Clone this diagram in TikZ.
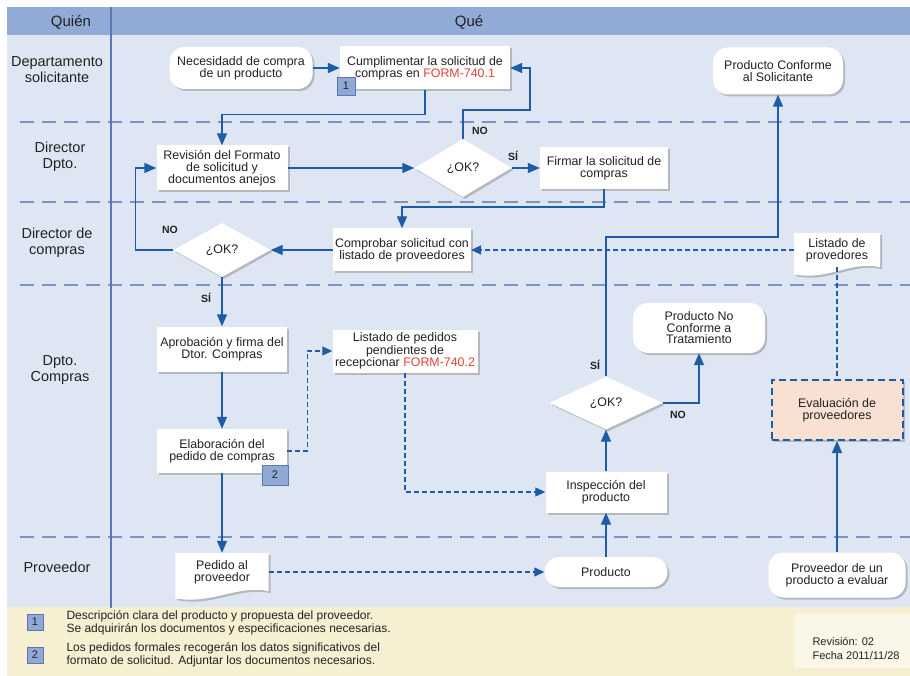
\documentclass[tikz,border=0pt]{standalone}
\usepackage{fontspec}
\setmainfont{Liberation Sans}
\usetikzlibrary{arrows.meta,shapes.geometric,shadows,calc}
\pgfdeclarelayer{back}
\pgfdeclarelayer{docs}
\pgfsetlayers{back,docs,main}
\definecolor{hdr}{HTML}{92AAD6}
\definecolor{bgblue}{HTML}{DFE6F3}
\definecolor{foot}{HTML}{F6EFD2}
\definecolor{flow}{HTML}{1F5CA6}
\definecolor{lane}{HTML}{7D93C4}
\definecolor{divl}{HTML}{5B78B5}
\definecolor{txt}{HTML}{222222}
\definecolor{formred}{HTML}{E5403A}
\definecolor{evalfill}{HTML}{F8E0D2}
\definecolor{badgefill}{HTML}{8FA8D6}
\definecolor{badgeline}{HTML}{5B78B5}
\newcommand\mkdoc[1]{%
  \begin{pgfonlayer}{docs}
  \fill[black!45,opacity=.5,transform canvas={shift={(2pt,-2pt)}}] (#1.north west) -- (#1.north east) -- (#1.south east) .. controls +(-30,-7) and +(35,7) .. ($(#1.south west)+(0,7)$) -- cycle;
  \fill[white] (#1.north west) -- (#1.north east) -- (#1.south east) .. controls +(-30,-7) and +(35,7) .. ($(#1.south west)+(0,7)$) -- cycle;
  \end{pgfonlayer}}
\begin{document}
\begin{tikzpicture}[x=1pt,y=-1pt,text=txt,
  shd/.style={drop shadow={shadow xshift=2pt,shadow yshift=-2pt,fill=black!45,opacity=.5}},
  box/.style={rectangle,fill=white,shd,align=center,font=\fontsize{12.4}{12}\selectfont,inner sep=2pt},
  stad/.style={box,rounded corners=15pt},
  dia/.style={diamond,fill=white,shd,inner sep=0pt,font=\fontsize{12.4}{12}\selectfont},
  docn/.style={rectangle,align=center,font=\fontsize{12.4}{12}\selectfont,inner sep=2pt},
  evalbox/.style={box,fill=evalfill,draw=flow,line width=2pt,dash pattern=on 7pt off 4pt},
  badge/.style={rectangle,fill=badgefill,draw=badgeline,line width=0.8pt,font=\fontsize{11}{11}\selectfont,minimum width=18pt,minimum height=18pt,inner sep=0pt},
  arr/.style={draw=flow,line width=1.4pt,-{Triangle[length=12pt,width=10pt]}},
  darr/.style={draw=flow,line width=1.1pt,dash pattern=on 5pt off 3pt,-{Triangle[length=10pt,width=9pt]}},
  dline/.style={draw=flow,line width=1.1pt,dash pattern=on 5pt off 3pt},
  lanelbl/.style={font=\fontsize{14.5}{16}\selectfont,align=center},
  yn/.style={font=\fontsize{10.5}{10.5}\selectfont\bfseries},
  lanesep/.style={draw=lane,line width=2.2pt,dash pattern=on 14pt off 8pt},
  foottxt/.style={font=\fontsize{12}{13.5}\selectfont,align=left,anchor=west}]
\useasboundingbox (0,0) rectangle (910,676);
\begin{pgfonlayer}{back}
  \fill[white] (0,0) rectangle (910,676);
  \fill[bgblue] (7,35) rectangle (910,607);
  \fill[hdr] (7,7) rectangle (910,35);
  \fill[foot] (7,607) rectangle (910,676);
  \fill[foot!50!white] (795,614) rectangle (910,668);
  \foreach \yy in {122,202,285,537} \draw[lanesep] (20,\yy) -- (910,\yy);
  \draw[divl,line width=2pt] (111,7) -- (111,608);
\end{pgfonlayer}
% header
\node[font=\fontsize{15}{15}\selectfont] (quien) at (71,22) {Quién};
\node[font=\fontsize{15}{15}\selectfont] (que) at (469,22) {Qué};
% lane labels
\node[lanelbl] (l1) at (57,70) {Departamento\\solicitante};
\node[lanelbl] (l2) at (60,157) {Director\\Dpto.};
\node[lanelbl] (l3) at (57,243) {Director de\\compras};
\node[lanelbl] (l4) at (60,370) {Dpto.\\Compras};
\node[lanelbl] (l5) at (57,567) {Proveedor};
% nodes
\node[stad,minimum width=143pt,minimum height=42pt] (nec) at (241,68) {Necesidadd de compra\\de un producto};
\node[box,minimum width=170pt,minimum height=43pt] (cump) at (425,68) {Cumplimentar la solicitud de\\compras en \textcolor{formred}{FORM-740.1}};
\node[badge] (b1) at (346,86) {1};
\node[stad,minimum width=130pt,minimum height=47pt] (pconf) at (778,71) {Producto Conforme\\al Solicitante};
\node[box,minimum width=131pt,minimum height=45pt] (rev) at (222,168) {Revisión del Formato\\de solicitud y\\documentos anejos};
\node[dia,minimum width=97pt,minimum height=58pt] (d1) at (463,168) {¿OK?};
\node[box,minimum width=128pt,minimum height=42pt] (firm) at (604,168) {Firmar la solicitud de\\compras};
\node[box,minimum width=137pt,minimum height=43pt] (comp) at (402,250) {Comprobar solicitud con\\listado de proveedores};
\node[dia,minimum width=97pt,minimum height=54pt] (d2) at (222,250) {¿OK?};
\node[docn,minimum width=86pt,minimum height=34pt] (lprov) at (837,250) {Listado de\\provedores};
\node[box,minimum width=130pt,minimum height=45pt] (apro) at (222,349) {Aprobación y firma del\\Dtor. Compras};
\node[box,minimum width=130pt,minimum height=44pt] (elab) at (222,451) {Elaboración del\\pedido de compras};
\node[badge,minimum width=26pt,minimum height=20pt] (b2) at (275,475) {2};
\node[box,minimum width=145pt,minimum height=43pt,font=\fontsize{12.4}{11}\selectfont] (lped) at (405,351) {Listado de pedidos\\pendientes de\\recepcionar \textcolor{formred}{FORM-740.2}};
\node[stad,minimum width=132pt,minimum height=50pt,font=\fontsize{12.4}{11.5}\selectfont] (pnc) at (699,328) {Producto No\\Conforme a\\Tratamiento};
\node[dia,minimum width=113pt,minimum height=53pt] (d3) at (606,403) {¿OK?};
\node[box,minimum width=121pt,minimum height=41pt] (insp) at (606,492) {Inspección del\\producto};
\node[evalbox,minimum width=131pt,minimum height=60pt] (eval) at (837,410) {Evaluación de\\proveedores};
\node[docn,minimum width=93pt,minimum height=38pt] (ped) at (222,572) {Pedido al\\proveedor};
\node[stad,minimum width=123pt,minimum height=30pt] (prod) at (606,572) {Producto};
\node[stad,minimum width=137pt,minimum height=45pt] (pprov) at (837,575) {Proveedor de un\\producto a evaluar};
\mkdoc{lprov}
\mkdoc{ped}
% connectors
\coordinate (noA) at (530,110);
\coordinate (turnA) at (778,237);
\draw[arr] (nec.east) -- (cump.west);
\draw[arr] (cump.south) -- ++(0,25) -| (rev.north);
\draw[arr] (rev.east) -- (d1.west);
\draw[arr] (d1.north) |- (noA) |- (cump.east);
\draw[arr] (d1.east) -- (firm.west);
\draw[arr] (firm.south) -- ++(0,18) -| (comp.north);
\draw[arr] (comp.west) -- (d2.east);
\draw[arr] (d2.west) -- ++(-38,0) |- (rev.west);
\draw[arr] (d2.south) -- (apro.north);
\draw[arr] (apro.south) -- (elab.north);
\draw[darr] (elab.east) -- ++(20,0) |- (lped.west);
\draw[darr] (lped.south) |- (insp.west);
\draw[arr] (elab.south) -- (ped.north);
\draw[darr] (ped.east) -- (prod.west);
\draw[arr] (prod.north) -- (insp.south);
\draw[arr] (insp.north) -- (d3.south);
\draw[arr] (d3.north) |- (turnA) -- (pconf.south);
\draw[arr] (d3.east) -| (pnc.south);
\draw[darr] (lprov.west) -- (comp.east);
\draw[dline] (lprov.south) -- (eval.north);
\draw[arr] (pprov.north) -- (eval.south);
% yes/no labels
\node[yn] (no1) at (480,131) {NO};
\node[yn] (si1) at (513,156) {SÍ};
\node[yn] (no2) at (170,230) {NO};
\node[yn] (si2) at (206,298) {SÍ};
\node[yn] (si3) at (595,365) {SÍ};
\node[yn] (no3) at (678,415) {NO};
% footer
\node[badge,minimum width=16pt,minimum height=16pt] (fb1) at (35,622) {1};
\node[foottxt] (ft1) at (63,623) {Descripción clara del producto y propuesta del proveedor.\\Se adquirirán los documentos y especificaciones necesarias.};
\node[badge,minimum width=16pt,minimum height=16pt] (fb2) at (35,655) {2};
\node[foottxt] (ft2) at (63,655) {Los pedidos formales recogerán los datos significativos del\\formato de solicitud. Adjuntar los documentos necesarios.};
\node[anchor=west,align=left,font=\fontsize{11}{14}\selectfont] (revi) at (809,648) {Revisión: 02\\Fecha 2011/11/28};
\end{tikzpicture}
\end{document}
